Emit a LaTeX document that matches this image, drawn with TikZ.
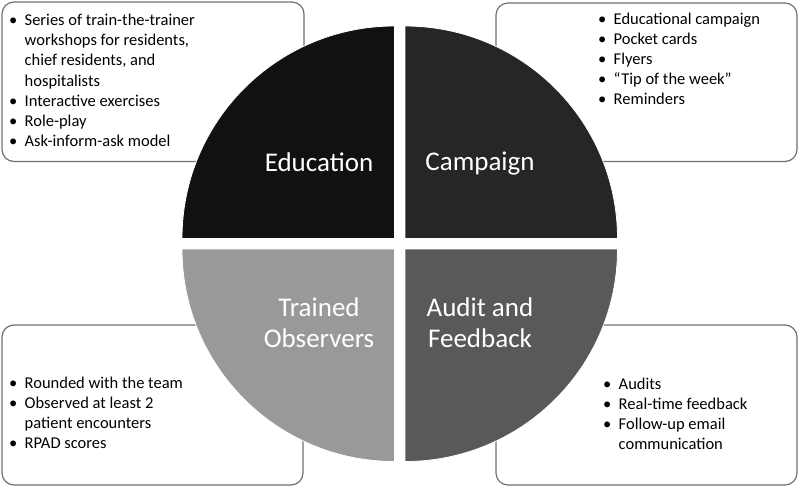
\documentclass[tikz,border=0pt]{standalone}
\usepackage{fontspec}
\setmainfont{Carlito}
\newcommand{\bul}{\makebox[15.5pt][l]{\textbullet}}
\definecolor{boxline}{HTML}{707070}
\definecolor{qeducation}{HTML}{111111}
\definecolor{qcampaign}{HTML}{262626}
\definecolor{qaudit}{HTML}{595959}
\definecolor{qtrained}{HTML}{999999}
\tikzset{
  infobox/.style={draw=boxline, line width=1.2pt, rounded corners=12pt, fill=white},
  bullets/.style={anchor=north west, inner sep=0pt,
    font=\fontsize{16.5}{20.1}\selectfont},
  quad/.style={draw=white, line width=0.8pt},
  qlabel/.style={text=white, align=center, inner sep=0pt,
    font=\fontsize{27}{31}\selectfont}
}
\begin{document}
\begin{tikzpicture}[x=1pt,y=1pt]
\useasboundingbox (0,0) rectangle (800,-488);
% boxes
\path[infobox] (2,-2) rectangle (304,-161.5);
\path[infobox] (496,-3) rectangle (797,-161.5);
\path[infobox] (2,-325) rectangle (303,-485);
\path[infobox] (496,-325) rectangle (797,-485);
% box texts
\node[bullets] (tl) at (9,-11.5) {\begin{tabular}{@{}l@{}l@{}}
\bul & Series of train-the-trainer\\
 & workshops for residents,\\
 & chief residents, and\\
 & hospitalists\\
\bul & Interactive exercises\\
\bul & Role-play\\
\bul & Ask-inform-ask model
\end{tabular}};
\node[bullets] (tr) at (598,-10) {\begin{tabular}{@{}l@{}l@{}}
\bul & Educational campaign\\
\bul & Pocket cards\\
\bul & Flyers\\
\bul & “Tip of the week”\\
\bul & Reminders
\end{tabular}};
\node[bullets] (bl) at (9,-374) {\begin{tabular}{@{}l@{}l@{}}
\bul & Rounded with the team\\
\bul & Observed at least 2\\
 & patient encounters\\
\bul & RPAD scores
\end{tabular}};
\node[bullets] (br) at (603,-375) {\begin{tabular}{@{}l@{}l@{}}
\bul & Audits\\
\bul & Real-time feedback\\
\bul & Follow-up email\\
 & communication
\end{tabular}};
% quadrants
\path[quad, fill=qeducation] (394.5,-238.5) -- ++(-212.5,0) arc[start angle=180, end angle=90, radius=212.5pt] -- cycle;
\path[quad, fill=qcampaign] (405,-238.5) -- ++(0,212.5) arc[start angle=90, end angle=0, radius=212.5pt] -- cycle;
\path[quad, fill=qaudit] (405,-249) -- ++(212.5,0) arc[start angle=0, end angle=-90, radius=212.5pt] -- cycle;
\path[quad, fill=qtrained] (394.5,-249) -- ++(0,-212.5) arc[start angle=-90, end angle=-180, radius=212.5pt] -- cycle;
% labels
\node[qlabel, anchor=base] (education) at (319,-171.7) {Education};
\node[qlabel, anchor=base] (campaign) at (480,-170) {Campaign};
\node[qlabel] (trained) at (319,-326) {\strut Trained\\\strut Observers};
\node[qlabel] (audit) at (480,-326) {\strut Audit and\\\strut Feedback};
\end{tikzpicture}
\end{document}
